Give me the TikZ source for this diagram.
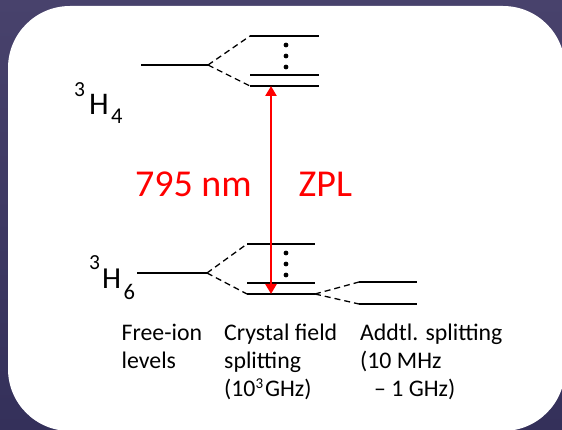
\documentclass[tikz,border=0pt]{standalone}
\usepackage{fontspec}
\setmainfont{Carlito}
\usetikzlibrary{arrows.meta}
\definecolor{bgtop}{RGB}{72,66,108}
\definecolor{bgbot}{RGB}{52,48,90}
\definecolor{zplred}{RGB}{255,0,0}
\begin{document}
\begin{tikzpicture}[x=1pt,y=-1pt,
  level/.style={line width=2.3pt, black},
  split/.style={line width=1.3pt, black, dash pattern=on 6pt off 4pt},
  dotmark/.style={circle, fill=black, inner sep=0pt, minimum size=4.8pt},
  lab/.style={anchor=base west, inner sep=0pt, font=\fontsize{23.8}{28}\selectfont},
  red label/.style={anchor=base, inner sep=0pt, text=zplred, font=\fontsize{38}{38}\selectfont},
  term/.style={anchor=base west, inner sep=0pt},
  zpl/.style={zplred, line width=2.6pt, {Triangle[length=10pt,width=11pt]}-{Triangle[length=10pt,width=11pt]}}
]
\useasboundingbox (0,0) rectangle (562,430);
\shade[top color=bgtop, bottom color=bgbot] (0,0) rectangle (562,430);
\fill[white, rounded corners=62pt] (8,6) rectangle (565,431);

% upper manifold 3H4
\coordinate (u0a) at (141,65);  \coordinate (u0b) at (208,65);
\coordinate (u1a) at (250,36);  \coordinate (u1b) at (319,36);
\coordinate (u2a) at (250,75);  \coordinate (u2b) at (319,75);
\coordinate (u3a) at (250,86);  \coordinate (u3b) at (319,86);
\draw[level] (u0a) -- (u0b);
\draw[level] (u1a) -- (u1b);
\draw[level] (u2a) -- (u2b);
\draw[level] (u3a) -- (u3b);
\draw[split] (u0b) -- (u1a);
\draw[split] (u0b) -- (u3a);
\node[dotmark] (ud1) at (286,45) {};
\node[dotmark] (ud2) at (286,56) {};
\node[dotmark] (ud3) at (286,67) {};

% lower manifold 3H6
\coordinate (l0a) at (137,273); \coordinate (l0b) at (207,273);
\coordinate (l1a) at (247,244); \coordinate (l1b) at (315,244);
\coordinate (l2a) at (247,283); \coordinate (l2b) at (315,283);
\coordinate (l3a) at (247,294); \coordinate (l3b) at (315,294);
\draw[level] (l0a) -- (l0b);
\draw[level] (l1a) -- (l1b);
\draw[level] (l2a) -- (l2b);
\draw[level] (l3a) -- (l3b);
\draw[split] (l0b) -- (l1a);
\draw[split] (l0b) -- (l3a);
\node[dotmark] (ld1) at (286,253) {};
\node[dotmark] (ld2) at (286,264) {};
\node[dotmark] (ld3) at (286,275) {};

% additional splitting
\coordinate (a1a) at (359,282); \coordinate (a1b) at (417,282);
\coordinate (a2a) at (359,304); \coordinate (a2b) at (417,304);
\draw[level] (a1a) -- (a1b);
\draw[level] (a2a) -- (a2b);
\draw[split] (l3b) -- (a1a);
\draw[split] (l3b) -- (a2a);

% ZPL transition
\coordinate (zt) at (271,86);
\coordinate (zb) at (271,294);
\draw[zpl] (zt) -- (zb);
\node[red label, anchor=base east] (nm) at (252,197) {795 nm};
\node[red label, anchor=base west] (zp) at (298.5,197) {ZPL};

% term symbols
\node[term, font=\fontsize{31.5}{31.5}\selectfont] (h4) at (74,115)
  {\raisebox{18pt}{\fontsize{21.5}{21.5}\selectfont 3}\kern4pt H\kern2.5pt\raisebox{-9pt}{\fontsize{22.5}{22.5}\selectfont 4}};
\node[term, font=\fontsize{30.5}{30.5}\selectfont] (h6) at (89,288)
  {\raisebox{18pt}{\fontsize{21.5}{21.5}\selectfont 3}\kern2pt H\kern2.5pt\raisebox{-11pt}{\fontsize{22.5}{22.5}\selectfont 6}};

% column labels
\node[lab] (fi1) at (121.5,340) {Free-ion};
\node[lab] (fi2) at (121.5,368) {levels};
\node[lab] (cf1) at (224,340) {Crystal field};
\node[lab] (cf2) at (224,368) {splitting};
\node[lab] (cf3) at (224,396) {(10\raisebox{8pt}{\fontsize{15}{15}\selectfont 3}\kern2pt GHz)};
\node[lab] (ad1) at (360,340) {Addtl. splitting};
\node[lab] (ad2) at (360,368) {(10 MHz};
\node[lab] (ad3) at (360,396) {\kern14pt – 1 GHz)};
\end{tikzpicture}
\end{document}
